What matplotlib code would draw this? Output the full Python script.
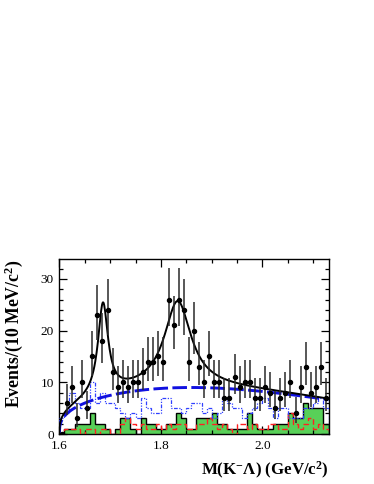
import numpy as np
import matplotlib
matplotlib.use("Agg")
import matplotlib.pyplot as plt
from matplotlib.ticker import MultipleLocator

plt.rcParams['font.family'] = ['Liberation Serif', 'DejaVu Serif']
plt.rcParams['mathtext.fontset'] = 'custom'
plt.rcParams['mathtext.rm'] = 'Liberation Serif:bold'
plt.rcParams['mathtext.bf'] = 'Liberation Serif:bold'
plt.rcParams['mathtext.it'] = 'Liberation Serif:bold'
plt.rcParams['mathtext.default'] = 'bf'

# ---------------- data ----------------
bin_lo = 1.60
bin_w = 0.01

# data points: bin centres and counts
data_m = [1.605, 1.615, 1.625, 1.635, 1.645, 1.655, 1.665, 1.675, 1.685, 1.695,
          1.705, 1.715, 1.725, 1.735, 1.745, 1.755, 1.765, 1.775, 1.785, 1.795,
          1.805, 1.815, 1.825, 1.835, 1.845, 1.855, 1.865, 1.875, 1.885, 1.895,
          1.905, 1.915, 1.925, 1.935, 1.945, 1.955, 1.965, 1.975, 1.985, 1.995,
          2.005, 2.015, 2.025, 2.035, 2.045, 2.055, 2.065, 2.075, 2.085, 2.095,
          2.105, 2.115, 2.125]
data_n = [0, 6, 9, 3, 10, 5, 15, 23, 18, 24,
          12, 9, 10, 9, 10, 10, 12, 14, 14, 15,
          14, 26, 21, 26, 24, 14, 20, 13, 10, 15,
          10, 10, 7, 7, 11, 9, 10, 10, 7, 7,
          9, 8, 5, 7, 8, 10, 4, 9, 13, 8,
          9, 13, 7]

# histograms (per 10 MeV bin, starting at 1.60)
green_hist = [0, 1, 1, 2, 2, 2, 4, 2, 2, 1,
              0, 1, 3, 3, 1, 0, 3, 2, 2, 1,
              1, 2, 2, 4, 3, 1, 1, 3, 3, 3,
              4, 2, 2, 1, 1, 1, 1, 4, 2, 1,
              1, 1, 2, 2, 2, 4, 3, 3, 6, 5,
              5, 5, 2]
red_hist = [0, 1, 1, 1, 0, 1, 1, 0, 1, 1,
            0, 0, 2, 3, 2, 1, 2, 1, 1, 2,
            1, 2, 1, 2, 2, 1, 1, 2, 2, 3,
            2, 1, 2, 1, 0, 2, 2, 1, 2, 1,
            1, 2, 2, 1, 1, 4, 2, 1, 2, 3,
            1, 2, 1]
blue_hist = [3, 4, 8, 6, 5, 5, 10, 6, 8, 6,
             6, 5, 4, 3, 4, 3, 7, 5, 4, 4,
             7, 7, 5, 5, 4, 5, 6, 6, 4, 5,
             3, 4, 7, 6, 5, 5, 3, 4, 5, 6,
             7, 5, 3, 5, 5, 3, 3, 3, 5, 5,
             6, 7, 5]

# fit-model parameters
thr = 1.600
bkg_amp, bkg_pow, bkg_c = 17.17, 0.35, 2.59
bw1_m, bw1_w, bw1_h = 1.686, 0.024, 18.0
bw2_m, bw2_w, bw2_h = 1.833, 0.064, 16.8

xticks = [1.6, 1.8, 2.0]
xtick_labels = ["1.6", "1.8", "2.0"]
yticks = [0, 10, 20, 30]

# ---------------- model ----------------
def bkg(m):
    q = np.clip(m - thr, 0, None)
    return bkg_amp * q ** bkg_pow * np.exp(-bkg_c * q ** 2)

def bw(m, m0, w, h):
    return h / (1.0 + ((m - m0) / (w / 2.0)) ** 2)

def total(m):
    q = np.clip(m - thr, 0, None)
    ps = np.sqrt(q / (q + 0.004))
    return bkg(m) + ps * (bw(m, bw1_m, bw1_w, bw1_h) + bw(m, bw2_m, bw2_w, bw2_h))

# ---------------- figure ----------------
fig = plt.figure(figsize=(3.74, 4.84), dpi=100)
ax = fig.add_axes([0.1586, 0.1033, 0.7198, 0.3616])

edges = bin_lo + bin_w * np.arange(len(green_hist) + 1)

ax.stairs(green_hist, edges, fill=True, color='#58d058', zorder=1)
ax.stairs(green_hist, edges, color='black', lw=1.0, zorder=2)
ax.stairs(red_hist, edges, color='#ff2020', lw=1.0, ls=(0, (4, 2)), zorder=3)
ax.stairs(blue_hist, edges, color='#3040ff', lw=0.9, ls=(0, (3, 1.2, 1, 1.2, 1, 1.2)), zorder=3)

mm = np.linspace(1.6, 2.13, 600)
ax.plot(mm, bkg(mm), color='#1010e0', lw=2.1, ls=(0, (5, 1.5)), zorder=4)
ax.plot(mm, total(mm), color='black', lw=1.4, zorder=5)

n = np.array(data_n, dtype=float)
err_up = np.where(n > 0, np.sqrt(n + 0.75) + 1.0, 0.0)
err_dn = np.where(n > 0, np.sqrt(np.clip(n - 0.25, 0, None)), 0.0)
ax.errorbar(data_m, n, yerr=[err_dn, err_up], fmt='o', color='black',
            ecolor='#2a2a2a', elinewidth=1.1, markersize=2.9, capsize=0, zorder=6)

ax.set_xlim(1.6, 2.13)
ax.set_ylim(0, 33.85)
ax.set_xticks(xticks)
ax.set_xticklabels(xtick_labels)
ax.set_yticks(yticks)
ax.xaxis.set_minor_locator(MultipleLocator(0.05))
ax.yaxis.set_minor_locator(MultipleLocator(2))
ax.tick_params(which='both', direction='in', top=True, right=True, labelsize=9.5, width=0.9)
ax.tick_params(which='major', length=5.5, pad=4)
ax.tick_params(which='minor', length=2.8)
for s in ax.spines.values():
    s.set_linewidth(1.0)

ax.set_xlabel(r"M(K$^{-}$Λ) (GeV/c$^{2}$)", fontsize=12.2, fontweight='bold',
              loc='right', labelpad=6)
ax.set_ylabel(r"Events/(10 MeV/c$^{2}$)", fontsize=12.8, fontweight='bold',
              loc='top', labelpad=11)

fig.savefig("out.png", dpi=100)
